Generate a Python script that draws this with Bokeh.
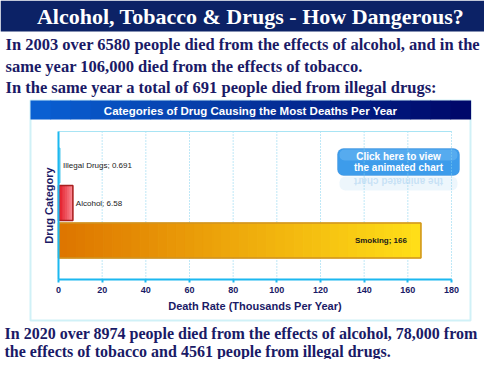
import math
from bokeh.plotting import figure
from bokeh.models import Label, BoxAnnotation, ColumnDataSource, Range1d, FixedTicker, LinearAxis
from bokeh.embed import file_html
from bokeh.resources import INLINE
from bokeh.core.properties import value

# ---- data ----
categories = ["Smoking", "Alcohol", "Illegal Drugs"]
death_rates = [166, 6.58, 0.691]
rate_labels = ["Smoking; 166", "Alcohol; 6.58", "Illegal Drugs; 0.691"]
x_ticks = [0, 20, 40, 60, 80, 100, 120, 140, 160, 180]

title_text = "Alcohol, Tobacco & Drugs - How Dangerous?"
intro_lines = [
    "In 2003 over 6580 people died from the effects of alcohol, and in the",
    "same year 106,000 died from the effects of tobacco.",
    "In the same year a total of 691 people died from illegal drugs:",
]
outro_lines = [
    "In 2020 over 8974 people died from the effects of alcohol, 78,000 from",
    "the effects of tobacco and 4561 people from illegal drugs.",
]
chart_title = "Categories of Drug Causing the Most Deaths Per Year"
button_lines = ["Click here to view", "the animated chart"]

# ---- layout (pixels) ----
W, H = 484, 359
NAVY = "#1a1a66"
K = 393 / 180.0          # px per thousand
X0_PX = 58               # canvas px of x = 0
U = 37.5                 # px per category slot
Y0_PX = H - 240          # canvas px (from bottom) of first category centre
Y_BOT = (H - 279 - Y0_PX) / U
Y_TOP = (H - 131 - Y0_PX) / U
BAR_H = 0.93


def sx(X):
    return X


def sy(Y):
    return H - Y


p = figure(width=W, height=H, title=None,
           x_range=Range1d(-X0_PX / K, (W - X0_PX) / K),
           y_range=Range1d(-Y0_PX / U, (H - Y0_PX) / U),
           x_axis_location=None, y_axis_location=None,
           output_backend="svg", toolbar_location=None,
           min_border=0)
p.background_fill_color = "white"
p.border_fill_color = "white"
p.outline_line_color = None
p.xgrid.visible = False
p.ygrid.visible = False


# ---- decorations (screen units, frame = whole canvas) ----
def box(X0, Y0, X1, Y1, fill, line=None, lw=1, alpha=1.0, radius=0, level="underlay"):
    b = BoxAnnotation(left=sx(X0), right=sx(X1), top=sy(Y0), bottom=sy(Y1),
                      left_units="screen", right_units="screen", top_units="screen", bottom_units="screen",
                      fill_color=fill, fill_alpha=alpha, line_color=line, line_width=lw, level=level,
                      border_radius=radius, propagate_hover=False, editable=False)
    p.add_layout(b)


def label(X, Y, text, size, color, font="Liberation Serif", style="bold", align="left", alpha=1.0, angle=0):
    p.add_layout(Label(x=sx(X), y=sy(Y), x_units="screen", y_units="screen", text=text,
                       text_font=font, text_font_style=style, text_font_size=f"{size}px",
                       text_color=color, text_alpha=alpha, text_align=align, text_baseline="middle",
                       angle=angle))


box(0, 0, W, 31, "#0c2266")
label(250, 16, title_text, 22, "white", align="center")
for i, t in enumerate(intro_lines):
    label(5, 44 + i * 21.5, t, 16.5, NAVY)
for i, t in enumerate(outro_lines):
    label(4, 333 + i * 17.5, t, 16, NAVY)

# chart frame
box(30, 100, 470, 320, None, line="#62cfe6", lw=2)
c0 = (10, 96, 210)
c1 = (0, 8, 106)
n = 22
for i in range(n):
    t = i / (n - 1)
    col = "#%02x%02x%02x" % tuple(int(a + (b - a) * t) for a, b in zip(c0, c1))
    box(30 + 440 * i / n, 100, 30 + 440 * (i + 1) / n + 0.6, 119, col)
label(250, 110, chart_title, 11.5, "white", font="Liberation Sans", align="center")

# button (with faint upside-down reflection)
box(339, 176, 457, 190, "#d8ebf9", alpha=0.45, radius=6)
label(398, 181, button_lines[1], 10, "#a8d0f0", font="Liberation Sans", align="center",
      alpha=0.55, angle=math.pi)
box(337, 148, 459, 175, "#3d9ceb", line="#2a80d0", lw=1, radius=6)
box(339, 149, 457, 160, "#6cb8f2", alpha=0.55, radius=5)
label(398, 156, button_lines[0], 10, "white", font="Liberation Sans", align="center")
label(398, 167, button_lines[1], 10, "white", font="Liberation Sans", align="center")

# ---- plot area: grid, top edge ----
gx = x_ticks[1:]
p.segment(x0=gx, y0=[Y_BOT] * len(gx), x1=gx, y1=[Y_TOP] * len(gx),
          line_color="#7fd0ee", line_dash="1 2", line_width=1)
p.segment(x0=[x_ticks[0]], y0=[Y_TOP], x1=[x_ticks[-1]], y1=[Y_TOP], line_color="#a8e4f4", line_width=1)

# ---- bars ----
cat_y = list(range(len(categories)))


def gradient_bar(yv, val, ca, cb, line, nseg=40):
    lefts, rights, cols = [], [], []
    for i in range(nseg):
        t = i / (nseg - 1)
        cols.append("#%02x%02x%02x" % tuple(int(a + (b - a) * t) for a, b in zip(ca, cb)))
        lefts.append(val * i / nseg)
        rights.append(val * (i + 1) / nseg)
    src = ColumnDataSource(dict(y=[yv] * nseg, left=lefts, right=rights, color=cols))
    p.hbar(y="y", left="left", right="right", height=BAR_H, fill_color="color", line_color="color",
           line_width=1, source=src)
    p.hbar(y=[yv], left=[0], right=[val], height=BAR_H, fill_color=None, line_color=line, line_width=1.5)


gradient_bar(cat_y[0], death_rates[0], (222, 118, 0), (255, 222, 24), "#cf9422")
gradient_bar(cat_y[1], death_rates[1], (226, 22, 34), (248, 130, 140), "#a82020", nseg=8)
p.hbar(y=[cat_y[2]], left=[0], right=[death_rates[2]], height=BAR_H,
       fill_color="#8fdcf4", line_color="#50c8ec")

lab_src = ColumnDataSource(dict(x=death_rates, y=cat_y, text=rate_labels,
                                off=[-14, 3, 3], align=["right", "left", "left"],
                                style=["bold", "normal", "normal"]))
p.text(x="x", y="y", text="text", x_offset="off", text_align="align", text_font_style="style",
       text_baseline="middle", text_font=value("Liberation Sans"), text_font_size="8px",
       text_color="#1a1a1a", source=lab_src)

# ---- axes at fixed locations ----
xaxis = LinearAxis(fixed_location=Y_BOT, bounds=(x_ticks[0], x_ticks[-1]),
                   ticker=FixedTicker(ticks=x_ticks))
xaxis.axis_line_color = "#1cb8f0"
xaxis.axis_line_width = 2
xaxis.major_tick_line_color = "#1cb8f0"
xaxis.major_tick_line_width = 2
xaxis.major_tick_out = 3
xaxis.major_tick_in = 0
xaxis.minor_tick_line_color = None
xaxis.major_label_text_font = "Liberation Sans"
xaxis.major_label_text_font_style = "bold"
xaxis.major_label_text_font_size = "9px"
xaxis.major_label_text_color = NAVY
xaxis.major_label_standoff = 4
xaxis.axis_label = "Death Rate (Thousands Per Year)"
xaxis.axis_label_text_font = "Liberation Sans"
xaxis.axis_label_text_font_style = "bold"
xaxis.axis_label_text_font_size = "11px"
xaxis.axis_label_text_color = NAVY
xaxis.axis_label_standoff = 4
p.add_layout(xaxis, "below")

yaxis = LinearAxis(fixed_location=x_ticks[0], bounds=(Y_BOT, Y_TOP), ticker=FixedTicker(ticks=[]))
yaxis.axis_line_color = "#1cb8f0"
yaxis.axis_line_width = 2
yaxis.major_tick_line_color = None
yaxis.minor_tick_line_color = None
yaxis.axis_label = "Drug Category"
yaxis.axis_label_text_font = "Liberation Sans"
yaxis.axis_label_text_font_style = "bold"
yaxis.axis_label_text_font_size = "11px"
yaxis.axis_label_text_color = NAVY
yaxis.axis_label_standoff = 4
p.add_layout(yaxis, "left")

open("out.html", "w").write(file_html(p, INLINE))
